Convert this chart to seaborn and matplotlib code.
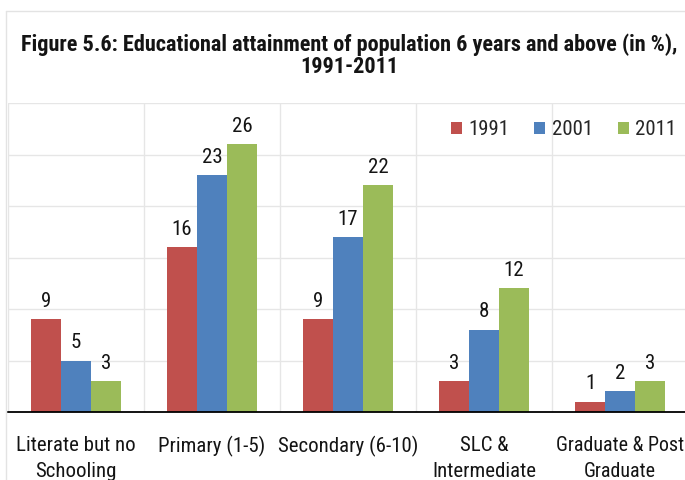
import matplotlib
matplotlib.use("Agg")
import matplotlib.pyplot as plt
from matplotlib import font_manager
from matplotlib.lines import Line2D
from matplotlib.patches import Patch
import seaborn as sns
import pandas as pd

categories = ["Literate but no\nSchooling", "Primary (1-5)", "Secondary (6-10)",
              "SLC &\nIntermediate", "Graduate & Post\nGraduate"]
years = ["1991", "2001", "2011"]
values_1991 = [9, 16, 9, 3, 1]
values_2001 = [5, 23, 17, 8, 2]
values_2011 = [3, 26, 22, 12, 3]
colors = ["#C0504D", "#4F81BD", "#9BBB59"]

rows = []
for yr, vals in zip(years, [values_1991, values_2001, values_2011]):
    for cat, v in zip(categories, vals):
        rows.append({"category": cat, "year": yr, "value": v})
df = pd.DataFrame(rows)

# prefer a narrow sans face when one is available
installed = {f.name for f in font_manager.fontManager.ttflist}
narrow = None
for cand in ["Liberation Sans Narrow", "DejaVu Sans Condensed", "Roboto Condensed",
             "Open Sans Condensed"]:
    if cand in installed:
        narrow = cand
        break
base_font = narrow if narrow else "Lato"

sns.set_theme(style="white")
plt.rcParams["font.family"] = [base_font, "DejaVu Sans"]

txt = "#141414"
fs = 15 if narrow else 13

fig = plt.figure(figsize=(6.85, 4.8), dpi=100)
ax = fig.add_axes([8 / 685, 68 / 480, 680 / 685, 309 / 480])

sns.barplot(data=df, x="category", y="value", hue="year", order=categories,
            hue_order=years, palette=colors, width=0.66, saturation=1,
            linewidth=0, edgecolor="none", ax=ax, legend=False)

for cont in ax.containers:
    ax.bar_label(cont, fmt="%d", padding=6, fontsize=fs, color=txt)

ax.set_xlim(-0.5, len(categories) - 0.5)
ax.set_ylim(0, 30)
ax.set_yticks(range(0, 31, 5))
ax.set_yticklabels([])
ax.tick_params(axis="y", length=0)
ax.yaxis.grid(True, color="#E6E6E6", linewidth=1)
ax.set_axisbelow(True)

# category boundaries: outward ticks plus faint vertical separators
bounds = [i - 0.5 for i in range(len(categories) + 1)]
ax.set_xticks(bounds, minor=True)
ax.tick_params(axis="x", which="minor", length=6, width=1.3, color="black",
               direction="out")
ax.tick_params(axis="x", which="major", length=0, pad=17, labelsize=fs,
               labelcolor=txt)
for lbl in ax.get_xticklabels():
    lbl.set_linespacing(1.5)
    if lbl.get_text().startswith("Graduate"):
        lbl.set_fontsize(fs - 0.6)
for b in bounds:
    ax.axvline(b, color="#E6E6E6", linewidth=1, zorder=0)

for s in ["top", "right", "left"]:
    ax.spines[s].set_visible(False)
ax.spines["bottom"].set_color("black")
ax.spines["bottom"].set_linewidth(1.3)
ax.set_xlabel("")
ax.set_ylabel("")

handles = [Patch(facecolor=c, edgecolor="none") for c in colors]
ax.legend(handles, years, loc="center", bbox_to_anchor=(0.817, 0.913), ncol=3,
          frameon=False, fontsize=fs, handlelength=0.53, handleheight=0.53,
          handletextpad=0.3, columnspacing=1.2)

# chart area outline
fig.add_artist(Line2D([6 / 685, 1], [1 - 11 / 480, 1 - 11 / 480],
                      color="#E3E3E3", linewidth=1))
fig.add_artist(Line2D([6 / 685, 6 / 685], [0, 1 - 11 / 480],
                      color="#E3E3E3", linewidth=1))

tfs = 16 if narrow else 14.8
fig.text(349 / 685, 1 - 45 / 480,
         "Figure 5.6: Educational attainment of population 6 years and above (in %),",
         ha="center", va="center", fontsize=tfs, fontweight="bold", color=txt)
fig.text(349 / 685, 1 - 67 / 480, "1991-2011", ha="center", va="center",
         fontsize=tfs, fontweight="bold", color=txt)

fig.savefig("out.png", dpi=100)
